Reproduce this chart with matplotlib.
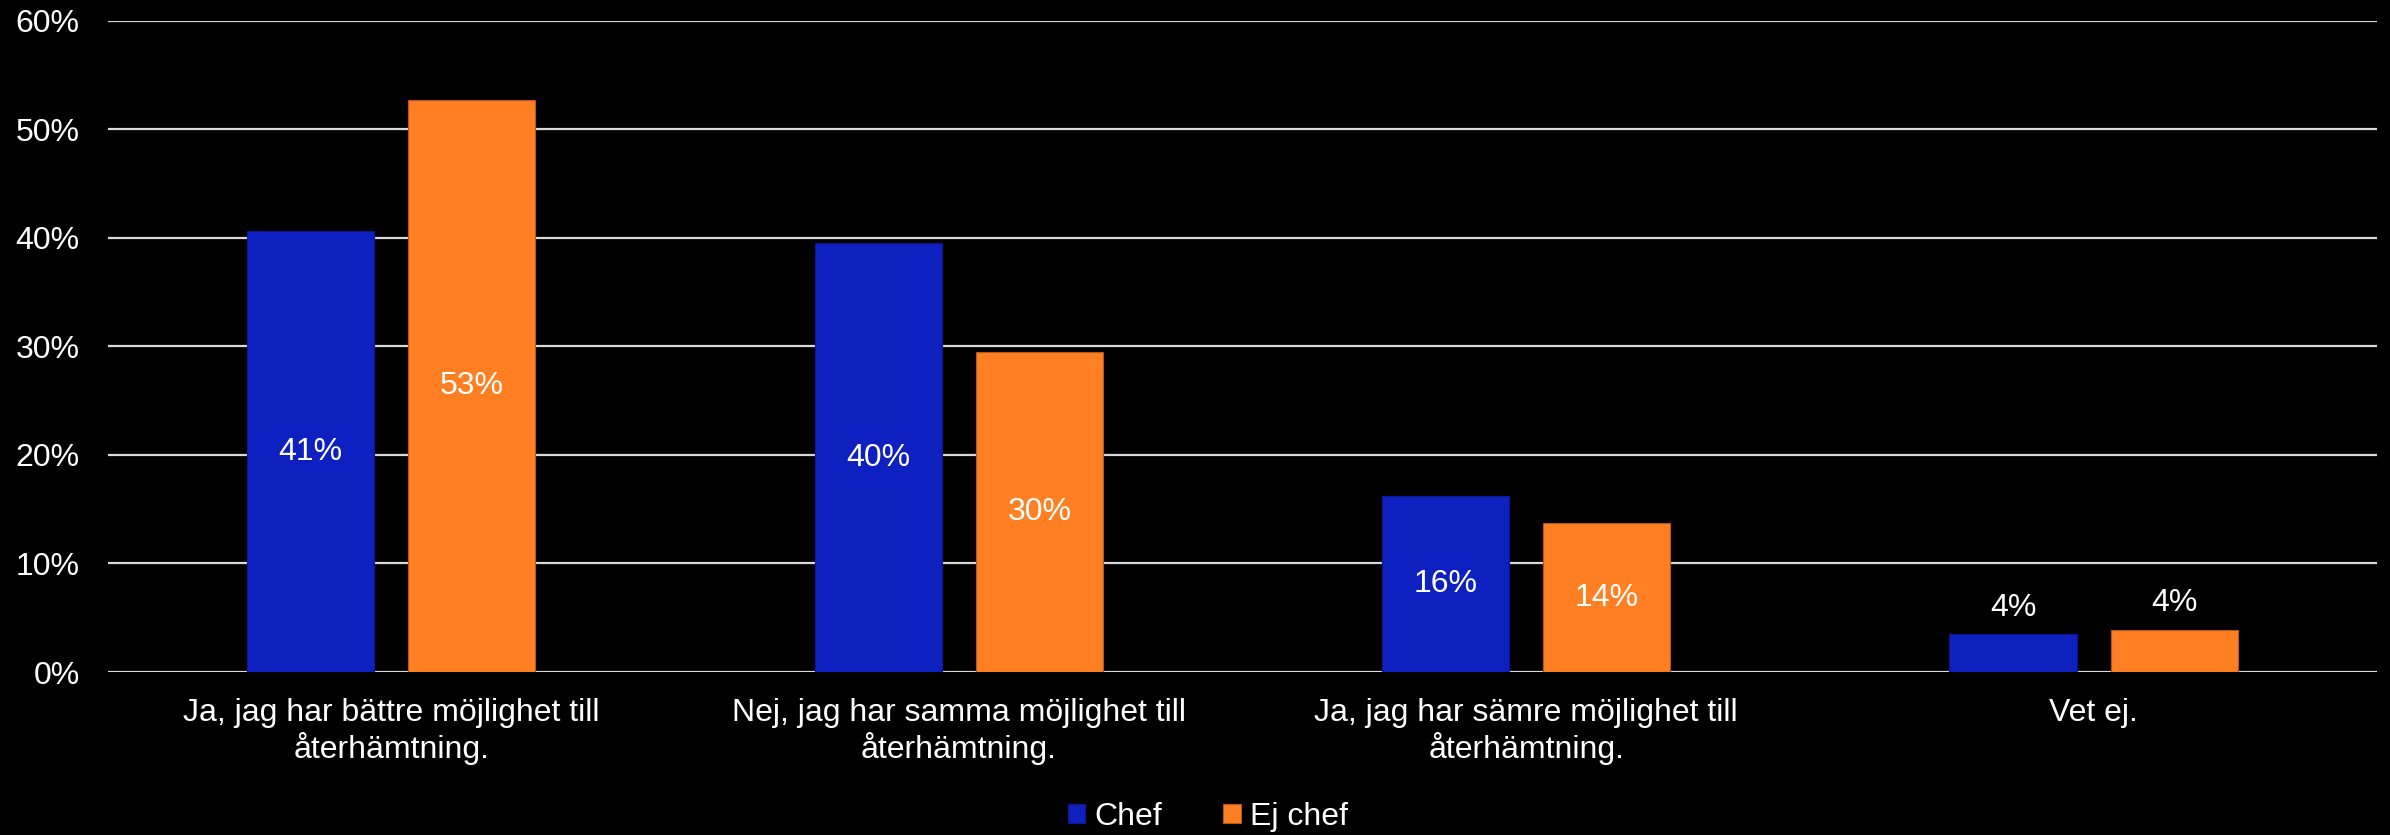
import matplotlib.pyplot as plt
import numpy as np

plt.rcParams['font.family'] = ['Liberation Sans', 'DejaVu Sans']

kategorier = [
    'Ja, jag har bättre möjlighet till\nåterhämtning.',
    'Nej, jag har samma möjlighet till\nåterhämtning.',
    'Ja, jag har sämre möjlighet till\nåterhämtning.',
    'Vet ej.',
]
chef = [40.6, 39.5, 16.2, 3.5]
ej_chef = [52.7, 29.5, 13.7, 3.9]
serier = ['Chef', 'Ej chef']
yticks = [0, 10, 20, 30, 40, 50, 60]

blue = '#0F20C0'
orange = '#FF7F22'
fs = 23

fig = plt.figure(figsize=(23.9, 8.35), dpi=100, facecolor='black')
ax = fig.add_axes([0.045, 0.1952, 0.9497, 0.7797], facecolor='black')

x = np.arange(len(kategorier))
w = 0.224
off = 0.142
b1 = ax.bar(x - off, chef, w, color=blue, edgecolor='#0A1690', linewidth=0.8,
            label=serier[0], zorder=3)
b2 = ax.bar(x + off, ej_chef, w, color=orange, edgecolor='#B5581A', linewidth=0.8,
            label=serier[1], zorder=3)

# value labels: centred in the bar, or just above it when the bar is short
for xs, vals in ((x - off, chef), (x + off, ej_chef)):
    for xi, v in zip(xs, vals):
        txt = f'{int(v + 0.5)}%'
        if v >= 6:
            ax.text(xi, v / 2, txt, ha='center', va='center', color='white',
                    fontsize=fs, zorder=4)
        else:
            ax.annotate(txt, (xi, v), xytext=(0, 19), textcoords='offset points',
                        ha='center', va='center', color='white', fontsize=fs,
                        zorder=4)

ax.set_xlim(-0.5, len(kategorier) - 0.5)
ax.set_ylim(0, 60)
ax.set_yticks(yticks)
ax.set_yticklabels([f'{t}%' for t in yticks])
ax.set_xticks(x)
ax.set_xticklabels(kategorier, linespacing=1.12)
ax.tick_params(axis='both', length=0, colors='white', labelsize=fs)
ax.tick_params(axis='y', pad=20)
ax.tick_params(axis='x', pad=19)
ax.grid(axis='y', color='#D9D9D9', linewidth=1.6, zorder=0)
for s in ax.spines.values():
    s.set_visible(False)

fig.legend(handles=[b1, b2], labels=serier, loc='center',
           bbox_to_anchor=(0.5054, 0.0216), ncol=2, frameon=False,
           fontsize=fs, labelcolor='white', handlelength=0.55, handleheight=0.55,
           handletextpad=0.3, columnspacing=1.9)

fig.savefig('out.png', dpi=100, facecolor='black')
